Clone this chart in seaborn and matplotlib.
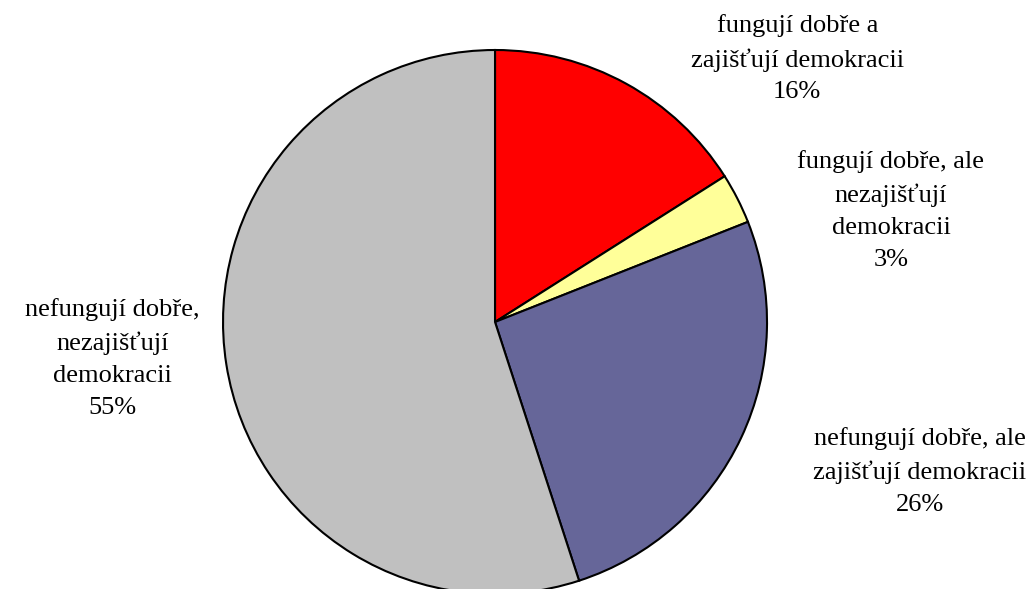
import numpy as np
import matplotlib
matplotlib.use('Agg')
import matplotlib.pyplot as plt
import seaborn as sns

# data
labels = ['fungují dobře a\nzajišťují demokracii',
          'fungují dobře, ale\nnezajišťují\ndemokracii',
          'nefungují dobře, ale\nzajišťují demokracii',
          'nefungují dobře,\nnezajišťují\ndemokracii']
values = [16, 3, 26, 55]
colors = ['#FF0000', '#FFFF99', '#666699', '#C0C0C0']

# label block centres (figure fraction)
label_pos = [(0.774, 0.900), (0.865, 0.643), (0.893, 0.200), (0.109, 0.392)]

sns.set_style('white')
plt.rcParams['font.family'] = ['Liberation Serif', 'DejaVu Serif']

fig = plt.figure(figsize=(10.30, 5.89), dpi=100)
ax = fig.add_axes([0.2165, -0.0085, 0.5282, 0.9236])
wedges, _ = ax.pie(values, colors=colors, startangle=90, counterclock=False,
                   wedgeprops=dict(edgecolor='black', linewidth=1.5))
ax.set_xlim(-1, 1)
ax.set_ylim(-1, 1)
ax.set_aspect('equal')
ax.axis('off')
for w in wedges:
    w.set_clip_on(False)

for lab, v, (x, y) in zip(labels, values, label_pos):
    fig.text(x, y, f'{lab}\n{v}%', ha='center', va='center', color='black',
             multialignment='center', fontsize=19, linespacing=1.58)

fig.savefig('out.png', dpi=100)
